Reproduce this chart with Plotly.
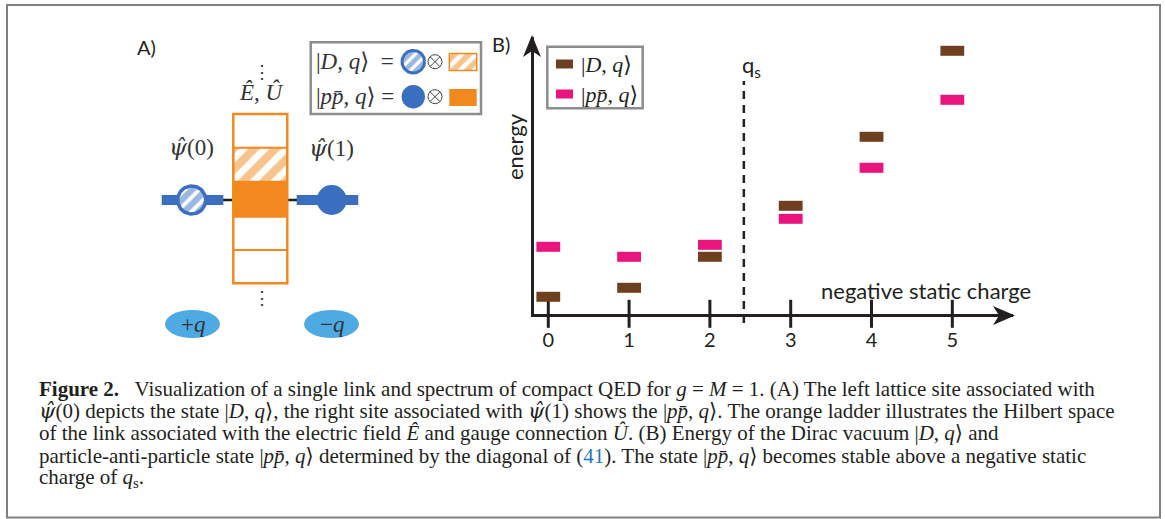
import numpy as np
import plotly.graph_objects as go

# ---------------- data (panel B) ----------------
charges = [0, 1, 2, 3, 4, 5]
tick_labels = ["0", "1", "2", "3", "4", "5"]
energy_D = [1.7, 2.6, 5.7, 10.8, 17.7, 26.3]      # |D,q>
energy_pp = [6.7, 5.7, 6.9, 9.5, 14.6, 21.4]      # |p pbar,q>
q_s = 2.42
name_D = "|<i>D</i>, <i>q</i>⟩"
name_pp = "|<i>p</i><i>p̄</i>, <i>q</i>⟩"

# ---------------- style ----------------
W, H = 1165, 519
BROWN = "#6E4020"
PINK = "#E9147E"
ORANGE = "#F2891E"
BLUE = "#3A6FC0"
LBLUE = "#4DAAE3"
INK = "#231F20"
GREY = "#8C8C8C"
SANS = "Lato, 'Open Sans', sans-serif"
SERIF = "'Liberation Serif', 'DejaVu Serif', serif"
PSI = "<span style=\"font-family:'DejaVu Serif'\"><i>ψ̂</i></span>"

X_LEFT, X_RIGHT = 533.5, 1013.0
Y_BOT, Y_TOP = 314.0, 37.0

fig = go.Figure()

# ---------------- panel B: data traces ----------------
fig.add_trace(go.Scatter(
    x=charges, y=[0] * len(charges), mode="markers", cliponaxis=False,
    marker=dict(symbol="line-ns", size=20, color=INK, line=dict(width=3, color=INK)),
    hoverinfo="skip", showlegend=False))
fig.add_trace(go.Scatter(
    x=charges, y=energy_D, mode="markers", name=name_D, cliponaxis=False,
    marker=dict(symbol="line-ew", size=17, color=BROWN, line=dict(width=10, color=BROWN))))
fig.add_trace(go.Scatter(
    x=charges, y=energy_pp, mode="markers", name=name_pp, cliponaxis=False,
    marker=dict(symbol="line-ew", size=17, color=PINK, line=dict(width=10, color=PINK))))

# ---------------- panel A: decorative traces (pixel axes) ----------------
def circle_xy(cx, cy, r, n=90):
    t = np.linspace(0, 2 * np.pi, n)
    return list(cx + r * np.cos(t)), list(cy + r * np.sin(t))

def rect_xy(x0, x1, y0, y1):
    return [x0, x1, x1, x0, x0], [y0, y0, y1, y1, y0]

def hatched(xs, ys, fg, lw, lc, size, solidity):
    fig.add_trace(go.Scatter(
        x=xs, y=ys, xaxis="x2", yaxis="y2", mode="lines", fill="toself",
        fillcolor="white", line=dict(color=lc, width=lw),
        fillpattern=dict(shape="/", fgcolor=fg, bgcolor="white", size=size,
                         solidity=solidity, fillmode="overlay"),
        hoverinfo="skip", showlegend=False))

# left site (hatched circle)
cx, cy = circle_xy(191.7, 200, 14.0)
hatched(cx, cy, BLUE, 3.5, BLUE, 10, 0.62)
# ladder hatched cell
LAD_X0, LAD_X1 = 233.3, 287.3
LAD_Y = [114, 147.7, 181.7, 216.7, 250, 283.3]
rx, ry = rect_xy(LAD_X0, LAD_X1, LAD_Y[1], LAD_Y[2])
hatched(rx, ry, ORANGE, 0, ORANGE, 15, 0.55)
# legend A hatched items
cx, cy = circle_xy(413.3, 61.7, 11.3)
hatched(cx, cy, BLUE, 3, BLUE, 8, 0.6)
rx, ry = rect_xy(449.3, 476.7, 53.5, 70.5)
hatched(rx, ry, ORANGE, 1.5, ORANGE, 10, 0.55)
# tensor product symbols
fig.add_trace(go.Scatter(
    x=[435, 435], y=[61.7, 96.7], xaxis="x2", yaxis="y2", mode="markers",
    marker=dict(symbol="circle-x-open", size=14, color="#444444", line=dict(width=1, color="#444444")),
    hoverinfo="skip", showlegend=False))

# ---------------- shapes ----------------
shapes = []
def px_shape(**kw):
    d = dict(xref="x2", yref="y2", layer="below")
    d.update(kw)
    shapes.append(d)

# outer frame
px_shape(type="rect", x0=7, x1=1160, y0=5, y1=517.5, line=dict(color="#808080", width=2), layer="above")
# connector line and blue bars
px_shape(type="line", x0=220, x1=300, y0=200, y1=200, line=dict(color=INK, width=2.5))
px_shape(type="rect", x0=161.7, x1=223.3, y0=195, y1=205, fillcolor=BLUE, line=dict(width=0))
px_shape(type="rect", x0=296.7, x1=358.3, y0=195, y1=205, fillcolor=BLUE, line=dict(width=0))
# ladder fill
px_shape(type="rect", x0=LAD_X0, x1=LAD_X1, y0=LAD_Y[0], y1=LAD_Y[-1], fillcolor="white", line=dict(width=0))
px_shape(type="rect", x0=LAD_X0, x1=LAD_X1, y0=LAD_Y[2], y1=LAD_Y[3], fillcolor=ORANGE, line=dict(width=0))
# right site filled circle
px_shape(type="circle", x0=331.7 - 15, x1=331.7 + 15, y0=185, y1=215, fillcolor=BLUE, line=dict(width=0))
# charge ellipses
px_shape(type="circle", x0=165, x1=220, y0=310, y1=338, fillcolor=LBLUE, line=dict(width=0))
px_shape(type="circle", x0=304, x1=359, y0=310, y1=338, fillcolor=LBLUE, line=dict(width=0))
# legend A box and filled items
px_shape(type="rect", x0=310.7, x1=481, y0=42.3, y1=114, fillcolor="white", line=dict(color=GREY, width=2.5))
px_shape(type="circle", x0=413.3 - 11.7, x1=413.3 + 11.7, y0=96.7 - 11.7, y1=96.7 + 11.7, fillcolor=BLUE, line=dict(width=0))
px_shape(type="rect", x0=449.3, x1=476.7, y0=89, y1=106, fillcolor=ORANGE, line=dict(width=0))
# ladder outlines (above)
px_shape(type="rect", x0=LAD_X0, x1=LAD_X1, y0=LAD_Y[0], y1=LAD_Y[-1], line=dict(color=ORANGE, width=2.5), layer="above")
for yy in LAD_Y[1:-1]:
    px_shape(type="line", x0=LAD_X0, x1=LAD_X1, y0=yy, y1=yy, line=dict(color=ORANGE, width=2), layer="above")
# axis arrowheads
px_shape(type="path", path="M532,35 L541,57 L532,51 L523,57 Z", fillcolor=INK, line=dict(width=0), layer="above")
px_shape(type="path", path="M1015,315.5 L993,306 L999,315.5 L993,325 Z", fillcolor=INK, line=dict(width=0), layer="above")
# legend B box + swatches
px_shape(type="rect", x0=547.3, x1=642.7, y0=46.7, y1=108.3, line=dict(color=GREY, width=2.5), layer="above")
px_shape(type="rect", x0=556, x1=573, y0=59.5, y1=68.5, fillcolor=BROWN, line=dict(width=0), layer="above")
px_shape(type="rect", x0=556, x1=573, y0=89.5, y1=98.5, fillcolor=PINK, line=dict(width=0), layer="above")
# q_s dashed line (data x)
shapes.append(dict(type="line", xref="x", yref="paper", x0=q_s, x1=q_s,
                   y0=(H - 323) / H, y1=(H - 81) / H,
                   line=dict(color=INK, width=2.5, dash="8px,6px"), layer="above"))

# ---------------- annotations ----------------
ann = []
def txt(x, y, text, size=20, family=SANS, color=INK, xanchor="center", yanchor="middle", angle=0):
    ann.append(dict(x=x, y=y, xref="x2", yref="y2", text=text, showarrow=False,
                    font=dict(family=family, size=size, color=color),
                    xanchor=xanchor, yanchor=yanchor, textangle=angle))

txt(146, 47, "A)", 20)
txt(501, 44, "B)", 20)
txt(926, 290, "negative static charge", 22)
txt(514, 147, "energy", 22, angle=-90)
txt(740, 66, "q<sub>s</sub>", 22, xanchor="left")
txt(579, 64, name_D, 22, SERIF, xanchor="left")
txt(579, 94, name_pp, 22, SERIF, xanchor="left")

MATH = "#333333"
txt(191.7, 147, PSI + "(0)", 23, SERIF, MATH)
txt(331, 148, PSI + "(1)", 23, SERIF, MATH)
txt(261, 92, "<i>Ê</i>, <i>Û</i>", 23, SERIF, MATH)
txt(262, 72, "⋮", 18, SERIF, MATH)
txt(262, 298, "⋮", 18, SERIF, MATH)
txt(192.5, 324, "+<i>q</i>", 23, SERIF, MATH)
txt(331.5, 324, "−<i>q</i>", 23, SERIF, MATH)
txt(314, 61.7, "|<i>D</i>, <i>q</i>⟩ \u00a0=", 23, SERIF, MATH, xanchor="left")
txt(314, 96.7, "|<i>p</i><i>p̄</i>, <i>q</i>⟩ =", 23, SERIF, MATH, xanchor="left")

caption = [
    "<b>Figure 2.</b>\u00a0\u00a0 Visualization of a single link and spectrum of compact QED for <i>g</i> = <i>M</i> = 1. (A) The left lattice site associated with",
    PSI + "(0) depicts the state |<i>D</i>, <i>q</i>⟩, the right site associated with " + PSI + "(1) shows the |<i>p</i><i>p̄</i>, <i>q</i>⟩. The orange ladder illustrates the Hilbert space",
    "of the link associated with the electric field <i>Ê</i> and gauge connection <i>Û</i>. (B) Energy of the Dirac vacuum |<i>D</i>, <i>q</i>⟩ and",
    "particle-anti-particle state |<i>p</i><i>p̄</i>, <i>q</i>⟩ determined by the diagonal of (<span style='color:#1F76C0'>41</span>). The state |<i>p</i><i>p̄</i>, <i>q</i>⟩ becomes stable above a negative static",
    "charge of <i>q</i><sub>s</sub>.",
]
for i, line in enumerate(caption):
    txt(37, 388.6 + 22.3 * i, line, 21, SERIF, INK, xanchor="left")

fig.update_layout(
    width=W, height=H, margin=dict(l=0, r=0, t=0, b=0),
    paper_bgcolor="white", plot_bgcolor="rgba(0,0,0,0)", showlegend=False,
    xaxis=dict(domain=[X_LEFT / W, X_RIGHT / W], range=[-0.183, 5.751],
               showline=True, linewidth=3, linecolor=INK, showgrid=False, zeroline=False,
               tickvals=charges, ticktext=tick_labels, ticks="",
               tickfont=dict(family=SANS, size=20, color=INK), ticklabelstandoff=6,
               fixedrange=True),
    yaxis=dict(domain=[1 - Y_BOT / H, 1 - Y_TOP / H], range=[-0.02, 27.68],
               showline=True, linewidth=3, linecolor=INK, showgrid=False, zeroline=False,
               showticklabels=False, ticks="", fixedrange=True),
    xaxis2=dict(domain=[0, 1], range=[0, W], visible=False, anchor="y2", fixedrange=True),
    yaxis2=dict(domain=[0, 1], range=[H, 0], visible=False, anchor="x2", fixedrange=True),
    shapes=shapes, annotations=ann,
)

fig.write_html("out.html", config=dict(displayModeBar=False),
               post_script="document.body.style.margin='0';document.body.style.overflow='hidden';")
